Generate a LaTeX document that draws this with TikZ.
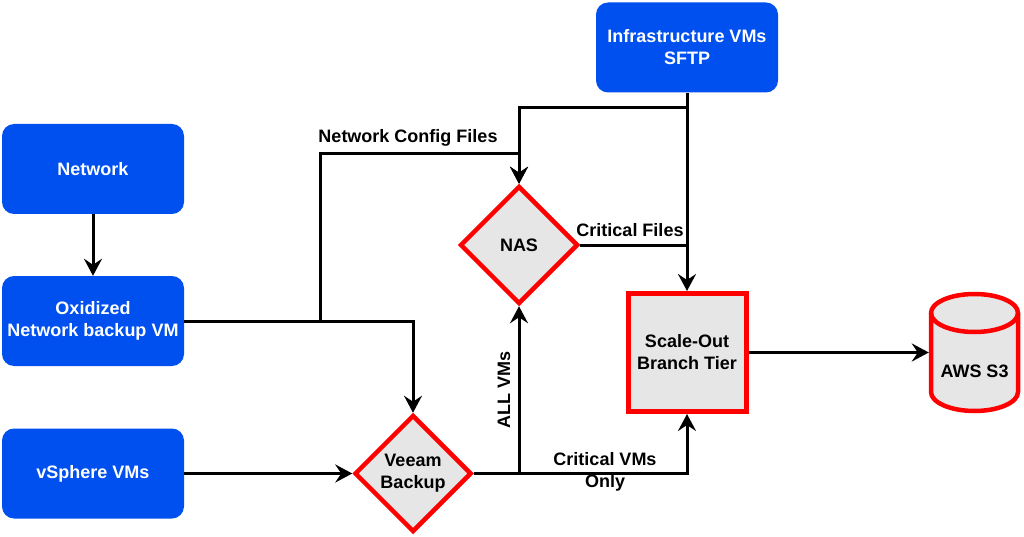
\documentclass[tikz,border=0pt]{standalone}
\usepackage{fontspec}
\setmainfont{Liberation Sans}
\usetikzlibrary{shapes.geometric,arrows.meta}
\definecolor{bl}{HTML}{0050EF}
\definecolor{gr}{HTML}{E6E6E6}
\begin{document}
\begin{tikzpicture}[x=1pt,y=-1pt,
  font=\bfseries\fontsize{18}{22}\selectfont,
  bluebox/.style={rectangle, rounded corners=12pt, fill=bl, draw=none, text=white,
    minimum width=182pt, minimum height=90pt, align=center, inner sep=0pt},
  dia/.style={diamond, draw=red, line width=4.5pt, fill=gr, minimum width=#1,
    minimum height=#1, inner sep=0pt, align=center},
  redbox/.style={rectangle, draw=red, line width=5pt, fill=gr, minimum width=118pt,
    minimum height=118pt, inner sep=0pt, align=center},
  ln/.style={line width=3pt},
  arr/.style={line width=3pt, -{Stealth[length=17pt,width=18pt,inset=6pt]}},
  lbl/.style={inner sep=0pt, align=center}]
\useasboundingbox (0,0) rectangle (1024,537);

\node[bluebox] (net) at (93,169) {Network};
\node[bluebox] (oxi) at (93,321) {Oxidized\\Network backup VM};
\node[bluebox] (vs) at (93,473.5) {vSphere VMs};
\node[bluebox] (infra) at (687,47.5) {Infrastructure VMs\\SFTP};
\node[dia=118pt] (nas) at (519,245) {NAS};
\node[dia=117pt] (veeam) at (413,473.5) {Veeam\\Backup};
\node[redbox] (sot) at (687,352.5) {Scale-Out\\Branch Tier};

% cylinder
\node[inner sep=0pt, minimum width=91pt, minimum height=121pt] (s3) at (974.5,352.5) {};
\draw[draw=red, fill=gr, line width=4.5pt]
  (931,313) -- (931,392) .. controls (931,402.5) and (950.5,411) .. (974.5,411)
  .. controls (998.5,411) and (1018,402.5) .. (1018,392) -- (1018,313)
  .. controls (1018,302.5) and (998.5,294) .. (974.5,294)
  .. controls (950.5,294) and (931,302.5) .. (931,313) -- cycle;
\draw[draw=red, line width=4.5pt]
  (931,313) .. controls (931,323.5) and (950.5,332) .. (974.5,332)
  .. controls (998.5,332) and (1018,323.5) .. (1018,313);
\node[lbl] (s3t) at (974.5,371) {AWS S3};

% junctions
\coordinate (j1) at (320,321);
\coordinate (c1) at (519,154);
\coordinate (j2) at (687,108);
\coordinate (j3) at (687,245);
\coordinate (j4) at (519,473.5);

\draw[arr] (net) -- (oxi);
\draw[arr] (oxi.east) -| (veeam.north);
\draw[arr] (j1) |- (c1) -- (nas.north);
\draw[arr] (infra.south) -- (sot.north);
\draw[arr] (j2) -| (nas.north);
\draw[ln] (nas.east) -- (j3);
\draw[arr] (vs.east) -- (veeam.west);
\draw[arr] (veeam.east) -| (sot.south);
\draw[arr] (j4) -- (nas.south);
\draw[arr] (sot.east) -- (s3.west);

\node[lbl] (l1) at (408,138) {Network Config Files};
\node[lbl] (l2) at (630,230) {Critical Files};
\node[lbl, rotate=90] (l3) at (504,390) {ALL VMs};
\node[lbl] (l4) at (605,472) {Critical VMs\\Only};
\end{tikzpicture}
\end{document}
